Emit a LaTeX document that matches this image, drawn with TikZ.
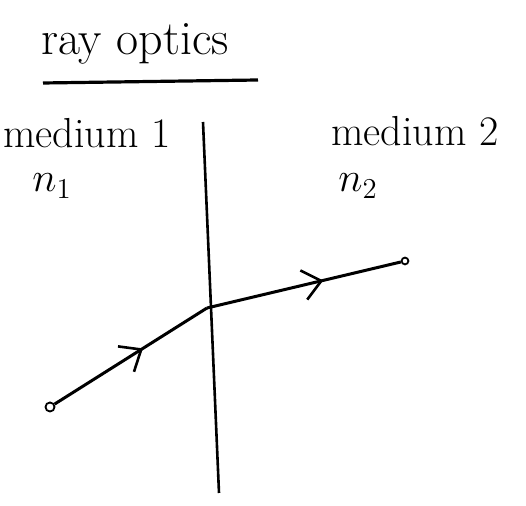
\documentclass[tikz,border=0pt]{standalone}
\usetikzlibrary{arrows.meta,decorations.markings}
\begin{document}
\begin{tikzpicture}[
        x=0.5pt, y=-0.5pt,
        label/.style={
            inner sep=0pt,
            font=\fontsize{21}{25}\selectfont
        },
        endpt/.style={draw, circle, inner sep=1.6pt, line width=0.9pt},
        boundary/.style={line width=1.3pt},
        ray/.style={
            line width=1.5pt,
            decoration={markings,
                mark=at position #1 with {\arrow{Straight Barb[length=9pt,width=15pt,line width=1.3pt]}}},
            postaction={decorate}
        }
    ]

    \useasboundingbox (0,0) rectangle (526,506);

    \node[label, font=\fontsize{24}{28}\selectfont] (title) at (135,44) {ray optics};
    \coordinate (ulA) at (43,83);
    \coordinate (ulB) at (258,80);
    \draw[line width=1.6pt] (ulA) -- (ulB);

    \node[label] (med1) at (87,133) {medium 1};
    \node[label] (n1) at (52,186) {$n_1$};
    \node[label] (med2) at (415,131) {medium 2};
    \node[label] (n2) at (358,186) {$n_2$};

    \coordinate (top) at (203,122);
    \coordinate (bottom) at (219,493);
    \draw[boundary] (top) -- (bottom);

    \node[endpt] (src) at (50,407) {};
    \coordinate (hit) at (207,308);
    \node[endpt, inner sep=1.2pt] (out) at (405,261) {};

    \draw[ray=0.58] (src) -- (hit);
    \draw[ray=0.6] (hit) -- (out);

    \end{tikzpicture}
\end{document}
